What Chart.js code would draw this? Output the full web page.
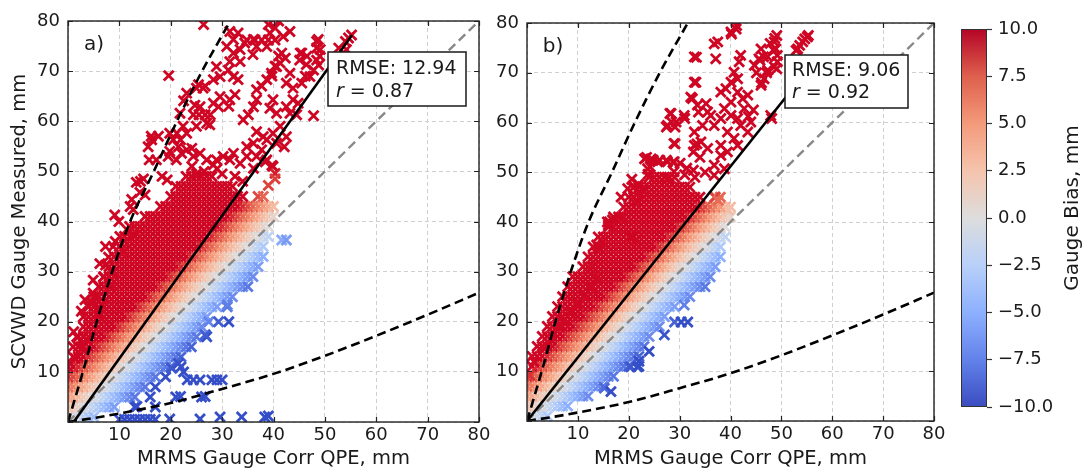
<!DOCTYPE html>
<html>
<head>
<meta charset="utf-8">
<script src="https://cdn.jsdelivr.net/npm/chart.js@4.4.1/dist/chart.umd.min.js"></script>
<style>
body { margin: 0; background: #fff; width: 1085px; height: 471px; overflow: hidden; position: relative; }
canvas { position: absolute; top: 0; }
</style>
</head>
<body>
<canvas id="panel-a" width="500" height="471" style="left:0"></canvas>
<canvas id="panel-b" width="520" height="471" style="left:440px"></canvas>
<canvas id="colorbar" width="124" height="471" style="left:961px"></canvas>
<script>
// Gauge vs MRMS QPE scatter, two panels + coolwarm colorbar

const axisTicks = [0, 10, 20, 30, 40, 50, 60, 70, 80];
const biasTicks = [-10, -7.5, -5, -2.5, 0, 2.5, 5, 7.5, 10];

const panelLabels = ['a)', 'b)'];
const rmseValues = [12.94, 9.06];
const rValues = [0.87, 0.92];

// reference lines
const oneToOneX = [0, 80];
const oneToOneY = [0, 80];
const fitAX = [1.1, 55.3];
const fitAY = [0, 77.2];
const fitBX = [0, 55.5];
const fitBY = [0, 71];
const upperEnvX = [0, 2.9, 5.6, 8.6, 12.1, 16.7, 21.2, 26.1, 31.6];
const upperEnvY = [0, 10, 20, 30, 40, 50, 60, 70, 80];
const lowerEnvX = [0, 5, 10, 20, 30, 40, 50, 60, 70, 80];
const lowerEnvY = [0, 0.8, 1.7, 3.8, 6.6, 9.6, 13.2, 17.2, 21.4, 25.8];

// panel a: dense part of the cloud, one row of x values per gauge level
const rowYA = [1, 3, 5, 7, 9, 11, 13, 15, 17, 19, 21, 23, 25, 27, 29, 31, 33, 35, 37, 39, 41, 43, 45, 47, 49];
const rowXA = [
    '0 1 2 3 4 5',
    '0 1 2 3 4 5 6 7 8 9 13 17',
    '0 1 2 3 4 5 6 7 8 9 10 11 12 13 16 21 26',
    '0 1 2 3 4 5 6 7 8 9 10 11 12 13 14 15 17',
    '0 1 2 3 4 5 6 7 8 9 10 11 12 13 14 15 16 17 19',
    '0 1 2 3 4 5 6 7 8 9 10 11 12 13 14 15 16 17 18 19 20 22',
    '1 2 3 4 5 6 7 8 9 10 11 12 13 14 15 16 17 18 19 20 21 22',
    '1 2 3 4 5 6 7 8 9 10 11 12 13 14 15 16 17 18 19 20 21 22 23 24',
    '2 3 4 5 6 7 8 9 10 11 12 13 14 15 16 17 18 19 20 21 22 23 24 25 27',
    '3 4 5 6 7 8 9 10 11 12 13 14 15 16 17 18 19 20 21 22 23 24 25 26',
    '3 4 5 6 7 8 9 10 11 12 13 14 15 16 17 18 19 20 21 22 23 24 25 26 27',
    '4 5 6 7 8 9 10 11 12 13 14 15 16 17 18 19 20 21 22 23 24 25 26 27 28 29 31',
    '5 6 7 8 9 10 11 12 13 14 15 16 17 18 19 20 21 22 23 24 25 26 27 28 29 30 31 32',
    '6 7 8 9 10 11 12 13 14 15 16 17 18 19 20 21 22 23 24 25 26 27 28 29 30 31 32 33 34 35',
    '7 8 9 10 11 12 13 14 15 16 17 18 19 20 21 22 23 24 25 26 27 28 29 30 31 32 33 34 35 36',
    '8 9 10 11 12 13 14 15 16 17 18 19 20 21 22 23 24 25 26 27 28 29 30 31 32 33 34 35 36 37',
    '9 10 11 12 13 14 15 16 17 18 19 20 21 22 23 24 25 26 27 28 29 30 31 32 33 34 35 36 37 38',
    '10 11 12 13 14 15 16 17 18 19 20 21 22 23 24 25 26 27 28 29 30 31 32 33 34 35 36 37 38',
    '11 12 13 14 15 16 17 18 19 20 21 22 23 24 25 26 27 28 29 30 31 32 33 34 35 36 37 38 39',
    '12 13 14 15 16 17 18 19 20 21 22 23 24 25 26 27 28 29 30 31 32 33 34 35 36 37 38 39',
    '15 16 17 18 19 20 21 22 23 24 25 26 27 28 29 30 31 32 33 34 35 36 37 38 39 40',
    '18 19 20 21 22 23 24 25 26 27 28 29 30 31 32 33 34 35 36 37 38 39 40',
    '20 21 22 23 24 25 26 27 28 29 30 31 32 33 34 37 38',
    '21 22 23 24 25 26 27 28 29 30 31 32',
    '23 24 25 26 27 28'
];
// panel a: scattered gauges
const extraXA = [1.1, 0.1, 1.4, 2.7, 3.7, 6.0, 6.6, 5.3, 4.7, 8.2, 7.3, 8.6, 7.3, 9.2, 10.8, 11.8, 12.8, 9.9, 9.1, 10.1,
    6.2, 6.9, 7.9, 4.9, 3.3, 1.7, 2.6, 4.9, 8.8, 13.3, 14, 14.7, 12.4, 12.7, 12.1, 14.1, 15, 18.3, 19.3, 15.8,
    16.2, 17.6, 19.6, 22.5, 26.4, 19.8, 20.5, 21.2, 21.9, 24.1, 21.5, 17.2, 19.5, 24.4, 25.5, 26.7, 27.7, 25.4, 26.7, 26.3,
    28.9, 29.6, 28.3, 31.5, 32.2, 33.1, 30.9, 32.2, 33.5, 34.4, 31.5, 33.5, 31.2, 32.2, 33.1, 32.5, 31.5, 29.6, 28.3, 25.7,
    27, 27.6, 25, 29.3, 31.3, 34.8, 36.4, 37.7, 39, 40.3, 39, 40.3, 41, 36, 41, 42.3, 40.3, 39.7, 45.2, 46.5,
    48.4, 48.4, 49, 48.8, 52.7, 54, 54.6, 55.2, 46.2, 45.5, 47.8, 44.5, 34.1, 35.1, 36.1, 36.7, 36.7, 37.7, 38.7, 39.6,
    40.6, 38.7, 39.3, 36.1, 36.7, 41.6, 41.3, 43.2, 42.5, 43.8, 43.8, 42.5, 43.2, 44.8, 39.9, 39.3, 40.6, 41.3, 39.9, 38.7,
    40.6, 42.5, 42.1, 38, 36.7, 36.1, 37.7, 36.7, 38.7, 39.9, 40.3, 34.8, 34.8, 33.5, 36.1, 32.2, 31.5, 30.2, 28.9, 28.3,
    27, 25.7, 24.4, 24.1, 22.1, 21.1, 23.1, 15.6, 16.3, 19.8, 23.1, 22.4, 21.8, 24.7, 25, 23.1, 47.8, 48.4, 47.1, 49.1,
    45.1, 45.5, 46.4, 48.7, 54.2, 53.6, 41.9, 43.2, 38.4, 39.7, 39, 40.3, 26.5, 30, 32.5, 34, 29, 25,
    20.2, 21.5, 22.5, 23.2, 24.4, 25.7, 28, 29, 30, 21.9, 26.7, 13.4, 31, 27.4, 29.3, 31.3, 26.7, 41.6, 42.5,
    10, 11, 12, 13, 14, 15, 16, 17, 19.8, 25.7, 29.6, 33.8, 38.3, 39];
const extraYA = [18, 12, 12.7, 14.7, 16.4, 21.4, 23.4, 25, 23.7, 27, 31.3, 29.7, 35, 36, 34, 38, 37.3, 40, 41.3, 37,
    31.6, 28.9, 32.9, 25.7, 24.4, 17, 22.1, 28.3, 35, 47.8, 45.8, 48.5, 44.4, 42.4, 43, 48, 45.3, 49, 48.3, 52.3,
    57, 57, 69.1, 64.1, 79.3, 54, 56.3, 57.6, 56.3, 54.6, 54.9, 52.3, 53, 61.3, 61.3, 61.3, 61.3, 67.3, 67, 66.6,
    70.9, 68.9, 68.3, 77.9, 76.3, 77.6, 74.9, 73.6, 74.3, 75.6, 71.9, 71.9, 70.2, 68.9, 68.3, 65.3, 64.3, 64.9, 63.6, 62.9,
    59.6, 59.3, 59, 62.9, 63, 76.2, 76.2, 76.2, 76.2, 76.2, 79.3, 78.6, 80, 73.3, 73, 72.6, 71, 69, 73.6, 73,
    75.9, 74.6, 73, 71.2, 74.6, 75.9, 76.6, 77.2, 69, 67.6, 61.1, 61.3, 60.3, 61.3, 62.9, 64.3, 66.3, 67, 68.3, 69.6,
    70.9, 74.9, 77.6, 76.3, 74.9, 73.6, 71.6, 69.6, 67.6, 66.6, 64.3, 62.9, 61.6, 63.6, 64.3, 62.6, 61.6, 59, 57.6, 56.3,
    55.6, 56.9, 54.9, 56.9, 57.9, 55.6, 54.3, 53, 52.3, 51, 49.6, 54.9, 53, 51.6, 50.6, 53.6, 52.3, 53, 52.3, 51.3,
    52.3, 53.6, 53, 51, 53.6, 52.3, 54.3, 54.9, 56.3, 57.6, 57.6, 59, 61.6, 63.2, 66.6, 65.6, 70.2, 72.2, 68.9, 74.3,
    72.2, 73.6, 71.3, 76.3, 74.3, 73.6, 76.9, 77.9, 51.9, 51.2, 47.2, 48.5, 50, 49.5, 49, 48, 50.5, 49.5,
    10.7, 11.7, 10, 8.4, 8.4, 8.4, 8.4, 8.4, 8.4, 5.1, 5.1, 3.1, 23.4, 20, 20, 20, 17.4, 36.3, 36.3,
    0.5, 0.5, 0.5, 0.5, 0.5, 0.5, 0.5, 0.5, 0.6, 0.6, 1, 1, 1, 1.2];

// panel b
const rowYB = [1, 3, 5, 7, 9, 11, 13, 15, 17, 19, 21, 23, 25, 27, 29, 31, 33, 35, 37, 39, 41, 43, 45, 47, 49];
const rowXB = [
    '0 1 2 3 4',
    '0 1 2 3 4 5 6 7 8',
    '0 1 2 3 4 5 6 7 8 9 10 11 12',
    '0 1 2 3 4 5 6 7 8 9 10 11 12 13 14 15',
    '0 1 2 3 4 5 6 7 8 9 10 11 12 13 14 15 16 17',
    '1 2 3 4 5 6 7 8 9 10 11 12 13 14 15 16 17 18 19 20 22',
    '1 2 3 4 5 6 7 8 9 10 11 12 13 14 15 16 17 18 19 20 21 22',
    '2 3 4 5 6 7 8 9 10 11 12 13 14 15 16 17 18 19 20 21 22 23',
    '3 4 5 6 7 8 9 10 11 12 13 14 15 16 17 18 19 20 21 22 23 24',
    '4 5 6 7 8 9 10 11 12 13 14 15 16 17 18 19 20 21 22 23 24 25 26',
    '5 6 7 8 9 10 11 12 13 14 15 16 17 18 19 20 21 22 23 24 25 26 27',
    '6 7 8 9 10 11 12 13 14 15 16 17 18 19 20 21 22 23 24 25 26 27 28 29',
    '7 8 9 10 11 12 13 14 15 16 17 18 19 20 21 22 23 24 25 26 27 28 29 30 31 32',
    '8 9 10 11 12 13 14 15 16 17 18 19 20 21 22 23 24 25 26 27 28 29 30 31 32 33 34 35',
    '9 10 11 12 13 14 15 16 17 18 19 20 21 22 23 24 25 26 27 28 29 30 31 32 33 34 35 36',
    '11 12 13 14 15 16 17 18 19 20 21 22 23 24 25 26 27 28 29 30 31 32 33 34 35 36 37',
    '12 13 14 15 16 17 18 19 20 21 22 23 24 25 26 27 28 29 30 31 32 33 34 35 36 37 38',
    '13 14 15 16 17 18 19 20 21 22 23 24 25 26 27 28 29 30 31 32 33 34 35 36 37 38',
    '14 15 16 17 18 19 20 21 22 23 24 25 26 27 28 29 30 31 32 33 34 35 36 37 38 39',
    '16 17 18 19 20 21 22 23 24 25 26 27 28 29 30 31 32 33 34 35 36 37 38 39',
    '17 18 19 20 21 22 23 24 25 26 27 28 29 30 31 32 33 34 35 36 37 38 39 40',
    '19 20 21 22 23 24 25 26 27 28 29 30 31 32 33 34 35 36 37 38 39 40',
    '20 21 22 23 24 25 26 27 28 29 30 31 32 33 34 37 38',
    '22 23 24 25 26 27 28 29 30 31 32',
    '24 25 26 27 28 29'
];
const extraXB = [1.4, 0.5, 3.4, 4.7, 6.4, 7.3, 8.6, 10, 11.3, 12.6, 13.6, 12.9, 14.2, 14.9, 16.2, 16.8, 18.5, 13.7, 16, 20.6,
    21.5, 15.8, 18.5, 19.8, 21.1, 23.1, 24.4, 23.7, 25.7, 27.6, 28.9, 27.6, 28.9, 28.3, 29.3, 27.6, 28.9, 30.9, 32.9, 32.9,
    37.5, 36.8, 40.1, 41.1, 41.2, 40.2, 32.5, 33.5, 35.2, 36.1, 35.5, 34.5, 36.8, 38.1, 32.9, 34.2, 35.5, 32.9, 38.8, 40.1,
    38.1, 39.1, 41.4, 42.4, 43.4, 42.7, 40.1, 41.4, 42, 44, 43.4, 39.4, 40.7, 38.1, 39.4, 41.4, 38.1, 36.8, 38.8, 36.8,
    42, 41.7, 40.7, 40.1, 41.4, 44.7, 45.6, 46, 47.3, 48.6, 48.9, 49.2, 46.6, 46, 47.3, 47.9, 53.2, 54.2, 55.1, 48.6,
    49.2, 37.1, 20.9, 21.6, 22.9, 23.5, 24.8, 24.2, 26.1, 27.4, 28.7, 23.8, 20.6, 21.9, 30.1, 31.4, 32.7, 32.7, 34, 33.4,
    31, 33, 35, 36.9, 37.6, 39.6, 43.5, 44.5, 45.1, 46.1, 47.1, 45.8, 46.5, 47.8, 48.4, 48.7, 49.1, 49.1, 48.1, 52.9,
    53.6, 54.6, 55.3, 33.3, 33.2, 32.2, 33.7, 31, 28.1, 28.4, 27.4, 29.1, 29.1,
    15.2, 16.5, 20.4, 21.7, 27, 30.9, 29, 30.3, 31.6, 22, 24];
const extraYB = [11.9, 9.2, 14.6, 16.3, 18.9, 20.3, 22, 23.6, 25.3, 27, 28.6, 31, 34.7, 36, 40, 40.4, 40.7, 35.4, 39.4, 37,
    36.4, 40, 45, 46.7, 47.1, 52.7, 52.7, 50.7, 52.1, 52.1, 52.1, 48.7, 50.1, 61.8, 60.1, 59.4, 55.8, 61.4, 68.1, 73.2,
    76.2, 75.8, 78.2, 78.8, 79.5, 77.8, 64.8, 63.5, 63.8, 61.4, 62.1, 59.4, 59.4, 60.8, 58.1, 56.1, 54.8, 55.4, 62.8, 64.1,
    66.1, 66.8, 66.1, 64.8, 65.5, 62.8, 61.4, 60.8, 59.4, 60.1, 58.1, 58.1, 56.8, 55.4, 54.1, 55.4, 53.4, 51.4, 50.7, 49.4,
    73.5, 72.2, 70.1, 68.1, 68.8, 71.5, 72.8, 74.8, 73.2, 76.2, 74.8, 73.5, 68.8, 67.5, 70.5, 61.4, 74.8, 76.2, 77.2, 71.2,
    72.2, 72.8, 46.9, 44.2, 46.2, 53, 52.4, 51.1, 52.4, 52.4, 52, 49.6, 48.6, 47.6, 51.8, 50.8, 50.4, 54.1, 53, 55.7,
    49.5, 49, 50, 45, 44.3, 42.4, 61.2, 62.5, 70, 68, 70, 72.5, 73.2, 75.9, 74.6, 76.9, 77.5, 70.8, 60.8, 74.5,
    75.5, 76.8, 77.5, 73.1, 68.1, 65.1, 62.1, 60.8, 61.8, 60.1, 59.1, 59.1, 55.7,
    6.6, 5.9, 10.9, 10.9, 17.3, 23.3, 19.9, 19.9, 19.9, 12, 14];

// matplotlib coolwarm, 9 stops (colorbar); markers use a slightly brighter red end like the figure
const cwStops = [[59, 76, 192], [98, 130, 234], [141, 176, 254], [184, 208, 249], [221, 221, 221],
    [245, 196, 173], [244, 154, 123], [222, 96, 77], [180, 4, 38]];
const markerStops = [[52, 78, 200], [98, 130, 234], [141, 176, 254], [184, 208, 249], [221, 221, 221],
    [245, 196, 173], [244, 150, 118], [226, 88, 70], [206, 6, 36]];

function mapColor(stops, t) {
    t = Math.max(0, Math.min(1, t));
    const s = t * 8;
    const i = Math.min(7, Math.floor(s));
    const f = s - i;
    const a = stops[i], b = stops[i + 1];
    return 'rgb(' + a.map((c, k) => Math.round(c + (b[k] - c) * f)).join(',') + ')';
}

function biasColor(p) {
    if (!p) return '#ce0624';
    return mapColor(markerStops, (p.y - p.x + 10) / 20);
}

function pairs(xs, ys) {
    return xs.map((x, i) => ({ x: x, y: ys[i] }));
}

function rowsToPoints(rowY, rowX) {
    const pts = [];
    rowY.forEach((y, i) => {
        rowX[i].split(' ').forEach(v => pts.push({ x: Number(v), y: y }));
    });
    return pts;
}

Chart.defaults.font.family = "'DejaVu Sans', sans-serif";
Chart.defaults.color = '#1a1a1a';

// frame on all four sides + inward ticks
const frameTicks = {
    id: 'frameTicks',
    afterDatasetsDraw(chart) {
        const { ctx, chartArea: a, scales: { x, y } } = chart;
        ctx.save();
        ctx.strokeStyle = '#222';
        ctx.lineWidth = 1.2;
        ctx.beginPath();
        x.ticks.forEach(t => {
            const px = Math.round(x.getPixelForValue(t.value)) + 0.5;
            ctx.moveTo(px, a.bottom); ctx.lineTo(px, a.bottom - 5);
            ctx.moveTo(px, a.top); ctx.lineTo(px, a.top + 5);
        });
        y.ticks.forEach(t => {
            const py = Math.round(y.getPixelForValue(t.value)) + 0.5;
            ctx.moveTo(a.left, py); ctx.lineTo(a.left + 5, py);
            ctx.moveTo(a.right, py); ctx.lineTo(a.right - 5, py);
        });
        ctx.stroke();
        ctx.lineWidth = 1.4;
        ctx.strokeRect(a.left, a.top, a.width, a.height);
        ctx.restore();
    }
};

// panel letter and RMSE / r box
const panelNote = {
    id: 'panelNote',
    afterDraw(chart, args, o) {
        const { ctx, chartArea: a } = chart;
        ctx.save();
        ctx.fillStyle = '#1a1a1a';
        ctx.font = "20px 'DejaVu Sans'";
        ctx.textAlign = 'center';
        ctx.textBaseline = 'middle';
        ctx.fillText(o.label, a.left + 26, a.top + 24);

        const [x0, y0, x1, y1] = o.box;
        ctx.fillStyle = '#fff';
        ctx.fillRect(a.left + x0, a.top + y0, x1 - x0, y1 - y0);
        ctx.strokeStyle = '#1a1a1a';
        ctx.lineWidth = 1.5;
        ctx.strokeRect(a.left + x0, a.top + y0, x1 - x0, y1 - y0);

        ctx.fillStyle = '#1a1a1a';
        ctx.textAlign = 'left';
        ctx.textBaseline = 'alphabetic';
        const tx = a.left + x0 + o.tx;
        ctx.font = "19px 'DejaVu Sans'";
        ctx.fillText('RMSE: ' + o.rmse.toFixed(2), tx, a.top + y0 + o.b1);
        ctx.font = "italic 19px 'DejaVu Sans'";
        ctx.fillText('r', tx, a.top + y0 + o.b2);
        const w = ctx.measureText('r').width;
        ctx.font = "19px 'DejaVu Sans'";
        ctx.fillText(' = ' + o.r.toFixed(2), tx + w, a.top + y0 + o.b2);
        ctx.restore();
    }
};

function lineSet(pts, color, width, dash, smooth) {
    return {
        type: 'line', data: pts, borderColor: color, borderWidth: width, borderDash: dash,
        pointRadius: 0, fill: false, clip: 0,
        cubicInterpolationMode: smooth ? 'monotone' : 'default'
    };
}

function makePanel(id, p) {
    new Chart(document.getElementById(id), {
        type: 'scatter',
        data: {
            datasets: [
                lineSet(pairs(p.fitX, p.fitY), '#000', 2.6, [], false),
                lineSet(pairs(upperEnvX, upperEnvY), '#000', 2.6, [9, 5], true),
                lineSet(pairs(lowerEnvX, lowerEnvY), '#000', 2.6, [9, 5], true),
                lineSet(pairs(oneToOneX, oneToOneY), '#888', 2.4, [9, 5], false),
                {
                    type: 'scatter',
                    data: p.points,
                    pointStyle: 'crossRot',
                    pointRadius: 7,
                    pointHoverRadius: 7,
                    pointBorderWidth: 2.8,
                    pointBorderColor: c => biasColor(c.raw),
                    pointBackgroundColor: c => biasColor(c.raw),
                    clip: 0
                }
            ]
        },
        options: {
            responsive: false,
            animation: false,
            events: [],
            layout: { padding: { left: p.padL, top: p.padT, right: p.padR, bottom: 0 } },
            plugins: {
                legend: { display: false },
                tooltip: { enabled: false },
                panelNote: p.note
            },
            scales: {
                x: {
                    type: 'linear', min: 0, max: 80,
                    afterBuildTicks: s => { s.ticks = axisTicks.map(v => ({ value: v })); },
                    afterFit: s => { s.height = p.xH; },
                    grid: { color: '#d0d0d0', lineWidth: 1, drawTicks: false },
                    border: { display: false, dash: [4, 3] },
                    ticks: { padding: 3, font: { size: 18 }, color: '#1a1a1a', callback: v => v === 0 ? '' : v },
                    title: { display: true, text: 'MRMS Gauge Corr QPE, mm', font: { size: 19.5 }, color: '#1a1a1a', padding: 0 }
                },
                y: {
                    type: 'linear', min: 0, max: 80,
                    afterBuildTicks: s => { s.ticks = axisTicks.map(v => ({ value: v })); },
                    afterFit: s => { s.width = p.yW; },
                    grid: { color: '#d0d0d0', lineWidth: 1, drawTicks: false },
                    border: { display: false, dash: [4, 3] },
                    ticks: { padding: 8, font: { size: 18 }, color: '#1a1a1a', callback: v => v === 0 ? '' : v },
                    title: { display: p.yTitle, text: 'SCVWD Gauge Measured, mm', font: { size: 19.5 }, color: '#1a1a1a', padding: 0 }
                }
            }
        },
        plugins: [frameTicks, panelNote]
    });
}

makePanel('panel-a', {
    points: rowsToPoints(rowYA, rowXA).concat(pairs(extraXA, extraYA)),
    fitX: fitAX, fitY: fitAY,
    padL: 8, padT: 21, padR: 21, xH: 49, yW: 60, yTitle: true,
    note: { label: panelLabels[0], rmse: rmseValues[0], r: rValues[0], box: [260, 31, 398, 85], tx: 8, b1: 22, b2: 45 }
});

makePanel('panel-b', {
    points: rowsToPoints(rowYB, rowXB).concat(pairs(extraXB, extraYB)),
    fitX: fitBX, fitY: fitBY,
    padL: 0, padT: 23, padR: 26, xH: 50, yW: 87, yTitle: false,
    note: { label: panelLabels[1], rmse: rmseValues[1], r: rValues[1], box: [258, 32, 381, 85], tx: 7, b1: 21, b2: 43 }
});

// colorbar
const cbFrame = {
    id: 'cbFrame',
    afterDraw(chart) {
        const { ctx, chartArea: a } = chart;
        ctx.save();
        ctx.strokeStyle = '#333';
        ctx.lineWidth = 1;
        ctx.strokeRect(a.left + 0.5, a.top + 0.5, a.width - 1, a.height - 1);
        ctx.translate(112, 208);
        ctx.rotate(-Math.PI / 2);
        ctx.fillStyle = '#1a1a1a';
        ctx.font = "20px 'DejaVu Sans'";
        ctx.textAlign = 'center';
        ctx.textBaseline = 'middle';
        ctx.fillText('Gauge Bias, mm', 0, 0);
        ctx.restore();
    }
};

new Chart(document.getElementById('colorbar'), {
    type: 'bar',
    data: {
        labels: [''],
        datasets: [{
            data: [[biasTicks[0], biasTicks[biasTicks.length - 1]]],
            backgroundColor: c => {
                const a = c.chart.chartArea;
                if (!a) return '#ddd';
                const g = c.chart.ctx.createLinearGradient(0, a.bottom, 0, a.top);
                cwStops.forEach((s, i) => g.addColorStop(i / 8, 'rgb(' + s.join(',') + ')'));
                return g;
            },
            borderWidth: 0,
            categoryPercentage: 1,
            barPercentage: 1
        }]
    },
    options: {
        responsive: false,
        animation: false,
        events: [],
        layout: { padding: { top: 29, bottom: 64, left: 0, right: 0 } },
        plugins: { legend: { display: false }, tooltip: { enabled: false } },
        scales: {
            x: { display: false },
            y: {
                position: 'right', min: -10, max: 10,
                afterBuildTicks: s => { s.ticks = biasTicks.map(v => ({ value: v })); },
                afterFit: s => { s.width = 98; },
                grid: { drawOnChartArea: false, drawTicks: true, tickLength: 5, tickColor: '#333', tickWidth: 1.2 },
                border: { display: false },
                ticks: { padding: 6, font: { size: 18 }, color: '#1a1a1a',
                    callback: v => (v < 0 ? '\u2212' : '') + Math.abs(v).toFixed(1) }
            }
        }
    },
    plugins: [cbFrame]
});
</script>
</body>
</html>
